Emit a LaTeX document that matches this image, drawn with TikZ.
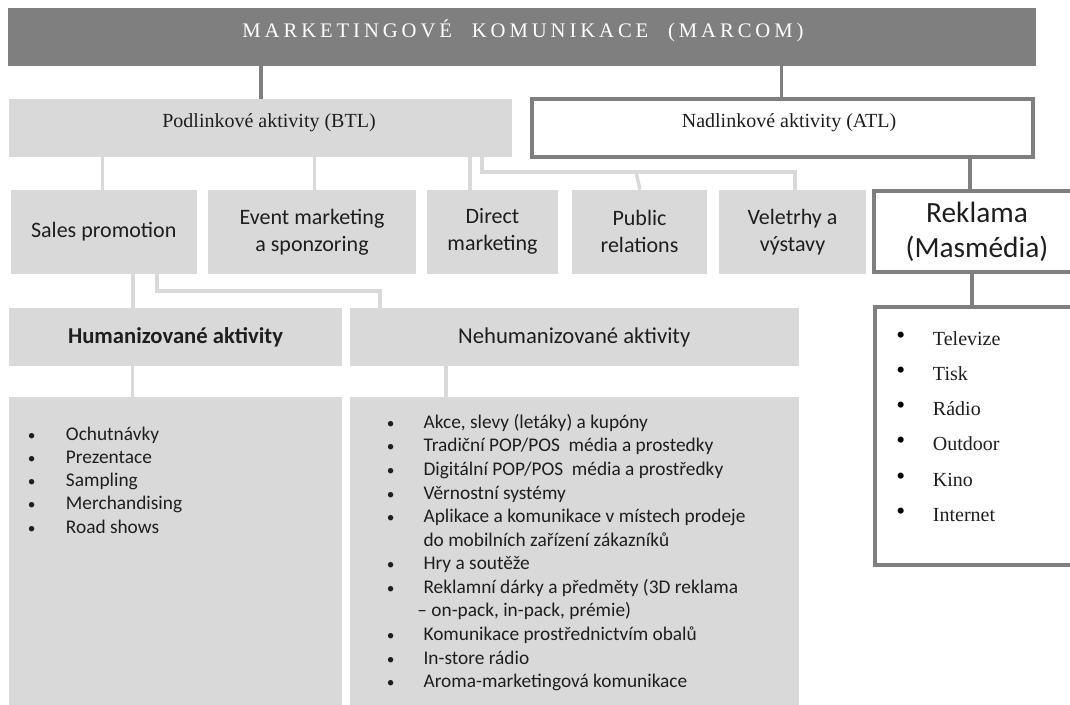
\documentclass[tikz,border=0pt]{standalone}
\usepackage{fontspec}
\setmainfont{Liberation Serif}
\newfontfamily\calibri{Carlito}
\newfontfamily\spacedserif[LetterSpace=19]{Liberation Serif}

\definecolor{boxgrey}{HTML}{D9D9D9}
\definecolor{darkgrey}{HTML}{7F7F7F}
\definecolor{inkgrey}{HTML}{1E1E1E}

\def \pxu {0.75pt}

\tikzset{
  greybox/.style={fill=boxgrey, inner sep=0pt, align=center, text=inkgrey},
  framebox/.style={draw=darkgrey, line width=3pt, fill=white, inner sep=0pt, align=center, text=inkgrey},
  sanslabel/.style={font=\calibri\fontsize{16.5}{20.25}\selectfont},
  seriflabel/.style={anchor=base, inner sep=0pt, text=inkgrey, font=\fontsize{15}{18}\selectfont},
  lightlink/.style={draw=boxgrey, line width=2.6pt},
  darklink/.style={draw=darkgrey, line width=2.4pt},
  itemtext/.style={anchor=base west, inner sep=0pt, text=inkgrey, font=\calibri\fontsize{14.5}{17}\selectfont},
  itembullet/.style={anchor=base, inner sep=0pt, text=inkgrey, font=\calibri\fontsize{11.5}{14}\selectfont},
  mediatext/.style={anchor=base west, inner sep=0pt, text=inkgrey, font=\fontsize{15}{18}\selectfont},
  mediabullet/.style={anchor=base, inner sep=0pt, text=black, font=\fontsize{19}{20}\selectfont}
}

\begin{document}
\begin{tikzpicture}[x=\pxu, y=-\pxu]
      \path[use as bounding box] (0,0) rectangle (1070,704);
      \clip (0,0) rectangle (1070,704);

      % top level
      \node[fill=darkgrey, inner sep=0pt, minimum width=1028*\pxu, minimum height=58*\pxu] (marcom) at (522,36.5) {};
      \node[anchor=base, inner sep=0pt, text=white, font=\spacedserif\fontsize{15.5}{18}\selectfont] (marcomtext) at (523,37) {MARKETINGOVÉ\hspace{8pt} KOMUNIKACE\hspace{8pt} (MARCOM)};

      % BTL / ATL
      \node[greybox, minimum width=503*\pxu, minimum height=58*\pxu] (btl) at (260.5,128) {};
      \node[seriflabel] (btltext) at (269,127) {Podlinkové aktivity (BTL)};
      \node[framebox, minimum width=501*\pxu, minimum height=58*\pxu] (atl) at (782.5,128) {};
      \node[seriflabel] (atltext) at (789,127) {Nadlinkové aktivity (ATL)};

      % BTL children
      \node[greybox, sanslabel, minimum width=186.5*\pxu, minimum height=83.5*\pxu] (sales) at (103.75,231.75) {Sales promotion};
      \node[greybox, sanslabel, minimum width=208*\pxu, minimum height=83.5*\pxu] (event) at (312,231.75) {Event marketing\\a sponzoring};
      \node[greybox, sanslabel, minimum width=131*\pxu, minimum height=83.5*\pxu] (direct) at (492.5,231.75) {Direct\\marketing};
      \node[greybox, sanslabel, minimum width=135*\pxu, minimum height=83.5*\pxu] (pr) at (639.5,231.75) {Public\\relations};
      \node[greybox, sanslabel, minimum width=147*\pxu, minimum height=83.5*\pxu] (fair) at (792.5,231.75) {Veletrhy a\\výstavy};

      % ATL child
      \node[framebox, minimum width=206*\pxu, minimum height=81*\pxu, font=\calibri\fontsize{22}{26.25}\selectfont] (reklama) at (977,231.5) {Reklama\\(Masmédia)};
      \node[framebox, minimum width=205*\pxu, minimum height=258*\pxu] (media) at (977.5,436) {};

      % sales promotion split
      \node[greybox, minimum width=333*\pxu, minimum height=58*\pxu, font=\calibri\bfseries\fontsize{17}{20}\selectfont] (hum) at (175.5,337) {Humanizované aktivity};
      \node[greybox, minimum width=449.5*\pxu, minimum height=58*\pxu, font=\calibri\fontsize{17}{20}\selectfont] (nonhum) at (574.25,337) {Nehumanizované aktivity};
      \node[greybox, minimum width=333*\pxu, minimum height=317*\pxu] (hlist) at (175.5,555.5) {};
      \node[greybox, minimum width=449.5*\pxu, minimum height=317*\pxu] (nlist) at (574.25,555.5) {};

      % connectors
      \draw[darklink] (261,0 |- marcom.south) -- (261,0 |- btl.north);
      \draw[darklink] (781.6,0 |- marcom.south) -- (781.6,0 |- atl.north);
      \draw[darklink] (970,0 |- atl.south) -- (970,0 |- reklama.north);
      \draw[darklink] (972,0 |- reklama.south) -- (972,0 |- media.north);
      \draw[lightlink] (102.6,0 |- btl.south) -- (102.6,0 |- sales.north);
      \draw[lightlink] (314.5,0 |- btl.south) -- (314.5,0 |- event.north);
      \draw[lightlink] (470,0 |- btl.south) -- (470,0 |- direct.north);
      \draw[lightlink] (482,0 |- btl.south) |- (795,172) -- (795,0 |- fair.north);
      \draw[lightlink] (636,172) -- (640,0 |- pr.north);
      \draw[lightlink] (133,0 |- sales.south) -- (133,0 |- hum.north);
      \draw[lightlink] (157,0 |- sales.south) |- (380,291) -- (380,0 |- nonhum.north);
      \draw[lightlink] (132.6,0 |- hum.south) -- (132.6,0 |- hlist.north);
      \draw[lightlink] (446,0 |- nonhum.south) -- (446,0 |- nlist.north);

      % lists
      \foreach \txt [count=\i from 0] in {Ochutnávky, Prezentace, Sampling, Merchandising, Road shows} {
        \node[itembullet] (hbul\i) at (31.8,{440+23.3*\i}) {\textbullet};
        \node[itemtext] (hitem\i) at (65.7,{440+23.3*\i}) {\txt};
      }
      \foreach \txt [count=\i from 0] in {{Akce, slevy (letáky) a kupóny}, {Tradiční POP/POS~ média a prostedky},
          {Digitální POP/POS~ média a prostředky}, {Věrnostní systémy}, {Aplikace a komunikace v místech prodeje},
          {do mobilních zařízení zákazníků}, {Hry a soutěže}, {Reklamní dárky a předměty (3D reklama},
          {\kern-4.6pt– on-pack, in-pack, prémie)}, {Komunikace prostřednictvím obalů}, {In-store rádio},
          {Aroma-marketingová komunikace}} {
        \node[itemtext] (nitem\i) at (423.3,{428.3+23.58*\i}) {\txt};
      }
      \foreach \i in {0,1,2,3,4,6,7,9,10,11} {
        \node[itembullet] (nbul\i) at (390.8,{428.3+23.58*\i}) {\textbullet};
      }
      \foreach \txt [count=\i from 0] in {Televize, Tisk, Rádio, Outdoor, Kino, Internet} {
        \node[mediabullet] (mbul\i) at (900.8,{343+35.3*\i}) {\textbullet};
        \node[mediatext] (mitem\i) at (932.7,{345+35.3*\i}) {\txt};
      }
   \end{tikzpicture}
\end{document}
